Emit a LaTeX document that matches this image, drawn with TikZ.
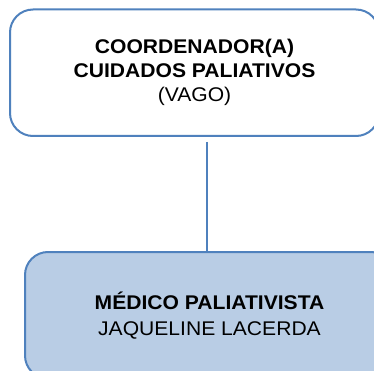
\documentclass[tikz,border=0pt]{standalone}
\usepackage{fontspec}
\setmainfont{Liberation Sans}[FakeStretch=1.065]
\usepackage{tikz}
\usetikzlibrary{positioning,calc}
\definecolor{rim}{RGB}{79,129,189}
\definecolor{paleblue}{RGB}{185,205,229}

\begin{document}
\begin{tikzpicture}[x=1pt,y=-1pt,
  orgbox/.style={draw=rim,line width=2pt,rounded corners=23pt,align=center,
    inner sep=0pt,minimum width=369pt,minimum height=126.5pt},
  link/.style={draw=rim,line width=2pt}]
\useasboundingbox (0,0) rectangle (374,371);
\clip (0,0) rectangle (374,371);
% top box
\node[orgbox,fill=white,font=\fontsize{19.8}{24}\selectfont] (coord) at (194.5,72.75)
  {\textbf{COORDENADOR(A)}\\\textbf{CUIDADOS PALIATIVOS}\\(VAGO)};
% lower box
\node[orgbox,fill=paleblue,font=\fontsize{19.8}{26}\selectfont] (medico) at (209.5,315.25)
  {\textbf{MÉDICO PALIATIVISTA}\\JAQUELINE LACERDA};
% connector
\coordinate (stem) at (207,142);
\draw[link] (stem) -- (stem |- medico.north);
\end{tikzpicture}
\end{document}
